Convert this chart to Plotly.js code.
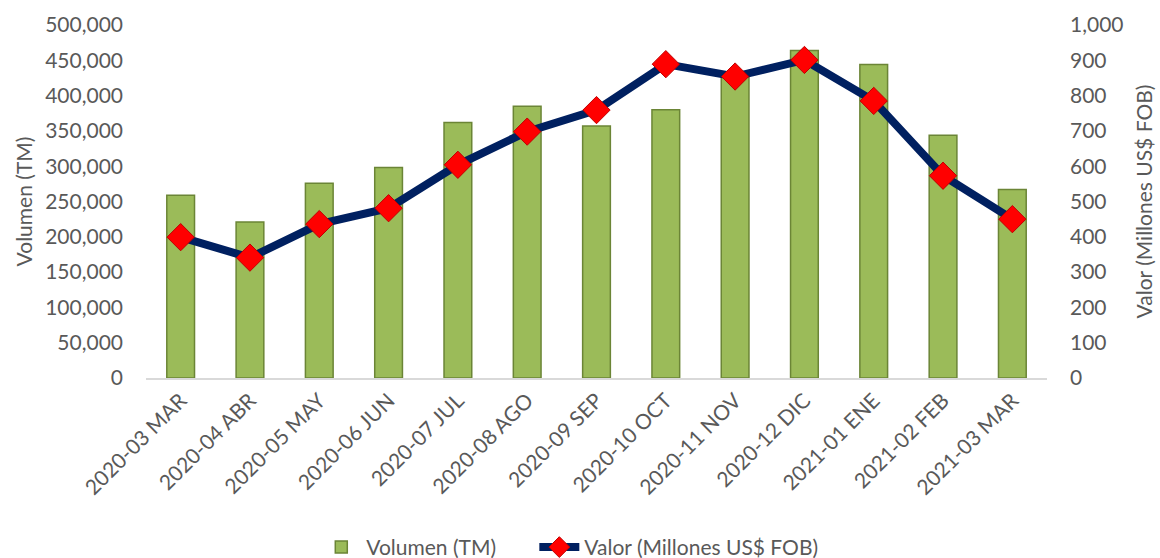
<!DOCTYPE html>
<html>
<head>
<meta charset="utf-8">
<script src="https://cdn.plot.ly/plotly-3.0.1.min.js"></script>
<style>html,body{margin:0;padding:0;background:#fff;}#chart{width:1160px;height:558px;}</style>
</head>
<body>
<div id="chart"></div>
<script>
const categories = ["2020-03 MAR","2020-04 ABR","2020-05 MAY","2020-06 JUN","2020-07 JUL","2020-08 AGO","2020-09 SEP","2020-10 OCT","2020-11 NOV","2020-12 DIC","2021-01 ENE","2021-02 FEB","2021-03 MAR"];
const volumen = [259000, 221000, 276000, 298000, 362000, 385000, 357000, 380000, 430000, 464000, 444000, 344000, 267000];
const valor = [399, 341, 436, 481, 604, 698, 759, 889, 854, 901, 785, 573, 450];

const fontFam = "Lato, 'Open Sans', sans-serif";
const grey = "#595959";
const fs = 21;

const traces = [
  {
    type: "bar", name: "Volumen (TM)", x: categories, y: volumen, yaxis: "y", legend: "legend",
    marker: {color: "#9bbb59", line: {color: "#6b8536", width: 1.5}},
    hoverinfo: "x+y"
  },
  {
    type: "scatter", mode: "lines+markers", name: "Valor (Millones US$ FOB)", x: categories, y: valor, yaxis: "y2", legend: "legend2",
    line: {color: "#002060", width: 8},
    marker: {symbol: "diamond", size: 21, color: "#ff0000", line: {color: "#c00000", width: 1}}
  }
];

const layout = {
  width: 1160, height: 558,
  margin: {l: 146, r: 113, t: 25, b: 180, autoexpand: false},
  paper_bgcolor: "#fff", plot_bgcolor: "#fff",
  font: {family: fontFam, size: fs, color: grey},
  bargap: 0.6,
  showlegend: true,
  legend: {orientation: "h", x: 0.189, xanchor: "left", y: -0.48, yanchor: "middle", font: {size: fs, color: grey}, itemwidth: 40},
  legend2: {orientation: "h", x: 0.431, xanchor: "left", y: -0.48, yanchor: "middle", font: {size: fs, color: grey}, itemwidth: 40},
  xaxis: {
    automargin: false, range: [-0.5, 12.5], autorange: false,
    tickangle: -45, showgrid: false, showline: true, linecolor: "#d9d9d9", linewidth: 2,
    ticks: "", tickfont: {size: fs, color: grey}, zeroline: false
  },
  yaxis: {
    automargin: false,
    range: [0, 500000], dtick: 50000, tickformat: ",d", showgrid: false, zeroline: false,
    showline: false, ticks: "", ticklabelstandoff: 22, tickfont: {size: fs, color: grey},
    title: {text: "Volumen (TM)", font: {size: fs, color: grey}, standoff: 6}
  },
  yaxis2: {
    automargin: false,
    range: [0, 1000], dtick: 100, tickformat: ",d", overlaying: "y", side: "right",
    showgrid: false, zeroline: false, showline: false, ticks: "", ticklabelstandoff: 22,
    tickfont: {size: fs, color: grey},
    title: {text: "Valor (Millones US$ FOB)", font: {size: fs, color: grey}, standoff: 14}
  }
};

Plotly.newPlot("chart", traces, layout, {displayModeBar: false, staticPlot: true});
</script>
</body>
</html>
